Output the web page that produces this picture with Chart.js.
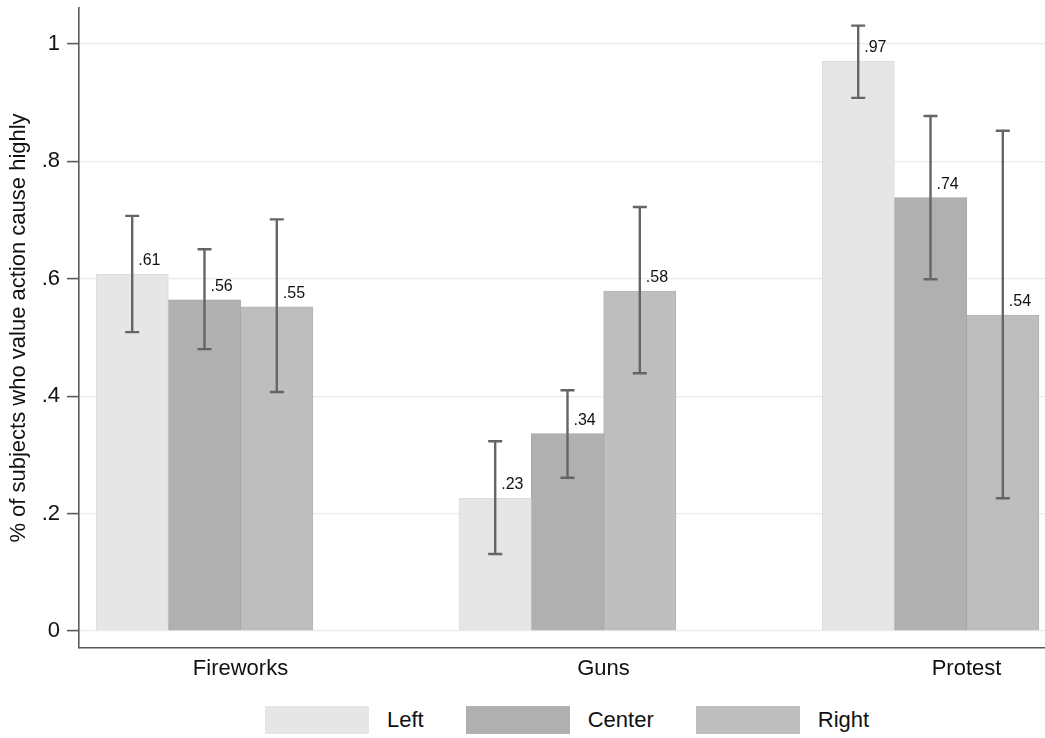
<!DOCTYPE html>
<html>
<head>
<meta charset="utf-8">
<script src="https://cdn.jsdelivr.net/npm/chart.js@4"></script>
<style>
  body { margin: 0; background: #fff; font-family: "Liberation Sans", Arial, sans-serif; }
  #wrap { position: relative; width: 1045px; height: 738px; }
  #box { position: absolute; left: 0; top: 0; width: 1045px; height: 700px; }
  #legend { position: absolute; left: 265px; top: 706px; display: flex; align-items: center; height: 28px; font-size: 22px; color: #111; }
  .item { display: flex; align-items: center; margin-right: 42px; }
  .sw { width: 104px; height: 28px; margin-right: 18px; }
</style>
</head>
<body>
<div id="wrap">
  <div id="box"><canvas id="chart"></canvas></div>
  <div id="legend"></div>
</div>
<script>
const categories = ["Fireworks", "Guns", "Protest"];
const groups = ["Left", "Center", "Right"];

const leftValues = [0.608, 0.226, 0.970];
const centerValues = [0.564, 0.336, 0.738];
const rightValues = [0.552, 0.579, 0.538];

// confidence intervals
const leftLow = [0.509, 0.131, 0.908];
const leftHigh = [0.707, 0.323, 1.031];
const centerLow = [0.480, 0.261, 0.599];
const centerHigh = [0.650, 0.410, 0.877];
const rightLow = [0.407, 0.439, 0.226];
const rightHigh = [0.701, 0.722, 0.852];

const yTickValues = [0, 0.2, 0.4, 0.6, 0.8, 1];
const yTickLabels = ["0", ".2", ".4", ".6", ".8", "1"];

const fills = ["#e6e6e6", "#b0b0b0", "#bebebe"];
const borders = ["#dcdcdc", "#a7a7a7", "#b4b4b4"];

function points(vals) {
  return vals.map((v, i) => ({ x: i, y: v }));
}

function fmt(v) {
  return v.toFixed(2).replace(/^0\./, ".");
}

const datasets = [
  { label: groups[0], data: points(leftValues), errLow: leftLow, errHigh: leftHigh },
  { label: groups[1], data: points(centerValues), errLow: centerLow, errHigh: centerHigh },
  { label: groups[2], data: points(rightValues), errLow: rightLow, errHigh: rightHigh }
];
datasets.forEach((d, i) => {
  d.backgroundColor = fills[i];
  d.borderColor = borders[i];
  d.borderWidth = 1;
  d.barThickness = 72.3;
});

// error bars + value labels
const errorBars = {
  id: "errorBars",
  afterDatasetsDraw(chart) {
    const ctx = chart.ctx;
    const y = chart.scales.y;
    ctx.save();
    ctx.strokeStyle = "#656565";
    ctx.lineWidth = 2.4;
    chart.data.datasets.forEach((ds, di) => {
      chart.getDatasetMeta(di).data.forEach((bar, i) => {
        const top = y.getPixelForValue(ds.errHigh[i]);
        const bot = y.getPixelForValue(ds.errLow[i]);
        ctx.beginPath();
        ctx.moveTo(bar.x, top);
        ctx.lineTo(bar.x, bot);
        ctx.moveTo(bar.x - 7, top);
        ctx.lineTo(bar.x + 7, top);
        ctx.moveTo(bar.x - 7, bot);
        ctx.lineTo(bar.x + 7, bot);
        ctx.stroke();
      });
    });
    ctx.fillStyle = "#111";
    ctx.font = '16px "Liberation Sans", Arial, sans-serif';
    ctx.textAlign = "left";
    ctx.textBaseline = "alphabetic";
    chart.data.datasets.forEach((ds, di) => {
      chart.getDatasetMeta(di).data.forEach((bar, i) => {
        ctx.fillText(fmt(ds.data[i].y), bar.x + 6, bar.y - 9);
      });
    });
    ctx.restore();
  }
};

const chart = new Chart(document.getElementById("chart"), {
  type: "bar",
  data: { datasets: datasets },
  options: {
    responsive: true,
    maintainAspectRatio: false,
    animation: false,
    layout: { padding: { top: 8, right: 0, left: 0, bottom: 0 } },
    plugins: { legend: { display: false }, tooltip: { enabled: false } },
    scales: {
      x: {
        type: "linear",
        offset: false,
        min: -0.3457,
        max: 2.3154,
        afterBuildTicks: s => { s.ticks = categories.map((c, i) => ({ value: i })); },
        afterFit: s => { s.height = 52; s.paddingLeft = 0; s.paddingRight = 0; },
        grid: { display: false, drawTicks: false, offset: false },
        border: { display: true, color: "#5a5a5a", width: 1.6 },
        ticks: {
          labelOffset: 36,
          padding: 8,
          color: "#111",
          font: { family: "Liberation Sans", size: 22 },
          callback: v => categories[v]
        }
      },
      y: {
        min: -0.029,
        max: 1.061,
        afterBuildTicks: s => { s.ticks = yTickValues.map(v => ({ value: v })); },
        afterFit: s => { s.width = 79; s.paddingTop = 0; s.paddingBottom = 0; },
        grid: { color: "#ebebeb", lineWidth: 1.2, tickColor: "#5a5a5a", tickLength: 12, tickWidth: 1.6 },
        border: { display: true, color: "#5a5a5a", width: 1.6 },
        ticks: {
          padding: 7,
          color: "#111",
          font: { family: "Liberation Sans", size: 22 },
          callback: (v, i) => yTickLabels[i]
        },
        title: {
          display: true,
          text: "% of subjects who value action cause highly",
          color: "#111",
          font: { family: "Liberation Sans", size: 22 },
          padding: { top: 6, bottom: 0 }
        }
      }
    }
  },
  plugins: [errorBars]
});

// legend built from the datasets
const legend = document.getElementById("legend");
datasets.forEach(d => {
  const item = document.createElement("div");
  item.className = "item";
  const sw = document.createElement("span");
  sw.className = "sw";
  sw.style.background = d.backgroundColor;
  const txt = document.createElement("span");
  txt.textContent = d.label;
  item.appendChild(sw);
  item.appendChild(txt);
  legend.appendChild(item);
});
</script>
</body>
</html>
